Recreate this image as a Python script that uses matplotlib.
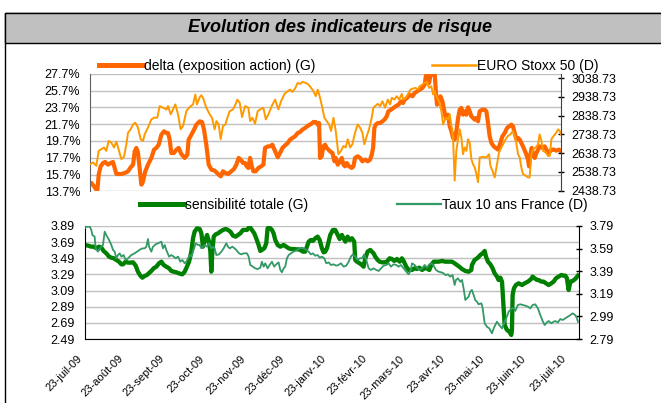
import matplotlib
matplotlib.use('Agg')
import matplotlib.pyplot as plt
import matplotlib.transforms as mtransforms
import numpy as np
import pandas as pd
from matplotlib.patches import Rectangle
from matplotlib.lines import Line2D

plt.rcParams['font.family'] = ['Liberation Sans', 'DejaVu Sans']

# jours depuis le 23/07/2009
debut = pd.Timestamp('2009-07-23')
fin = debut + pd.Timedelta(days=373)

# delta (exposition action), en %
delta_jours = [0, 1.1, 3.2, 5.0, 5.8, 6.9, 8.4, 10.3, 12.1, 14.3, 16.4, 18.2, 19.5, 20.9, 22.7, 24.8, 27.5, 30.1, 32.2, 34.1,
               35.4, 36.7, 38.0, 39.3, 40.7, 42.0, 43.8, 45.9, 48.6, 50.7, 52.5, 54.4, 56.5, 58.6, 60.5, 61.8, 63.1, 64.4, 66.5, 68.4,
               70.2, 72.3, 75.0, 77.1, 78.1, 80.3, 82.4, 84.2, 86.9, 88.7, 90.3, 92.1, 94.0, 96.1, 98.7, 101.4, 103.5, 105.3, 107.2, 109.3,
               111.9, 114.1, 115.9, 117.7, 119.3, 121.2,
               122.8, 124.1, 125.4, 126.8, 128.1, 129.4, 131.2, 133.4, 135.5, 137.3, 138.6, 140.8, 142.6, 144.4, 146.6, 148.7, 150.5, 152.4, 154.5, 156.6,
               158.4, 160.3, 162.4, 164.5, 166.4, 168.2, 170.3, 173.0, 175.1, 176.9, 178.8, 180.4, 181.4, 182.2, 183.5, 184.8, 186.2, 187.5, 188.8, 190.1,
               192.0, 193.6, 194.6, 196.2, 198.0, 199.4, 200.7, 202.0, 203.3, 205.2, 207.3, 208.6, 209.9, 212.0, 213.9, 215.7, 217.8, 220.0, 221.8, 223.1,
               224.2, 225.2, 226.3, 227.9, 229.7, 231.6, 233.2, 235.0, 236.3, 238.4, 240.3, 242.1, 244.2, 246.4,
               247.9, 249.2, 251.1, 253.2, 255.3, 257.1, 259.0, 261.1, 263.2, 265.1, 265.9, 266.9, 268.5, 269.5, 270.6, 271.7, 273.0, 273.8, 274.8, 276.4,
               277.5, 279.1, 280.1, 281.7, 283.5, 284.9, 286.2, 287.5, 288.8, 290.1, 291.5, 292.8, 294.1, 295.4, 296.7, 298.1, 299.4, 300.7, 302.0, 303.3,
               304.7, 306.0, 307.3, 308.6, 310.7, 312.6, 313.9, 315.2, 316.5, 317.9, 319.7, 321.3, 323.1, 324.5, 326.6, 328.4, 330.3, 331.9, 333.7, 335.0,
               336.3, 337.7, 339.0, 340.3, 341.6, 342.9, 345.1, 346.9, 347.7, 348.7, 349.8, 350.9, 352.2, 353.5, 354.8, 356.1, 358.3, 360.1, 361.4, 363.5,
               365.4, 367.2, 369.3, 371.4, 373.0]
delta = [14.69, 14.69, 14.29, 13.90, 13.78, 15.68, 16.67, 17.07, 17.19, 16.87, 17.07, 17.19, 16.48, 15.76, 15.76, 15.76, 15.88, 16.08, 16.55, 16.87,
         18.46, 18.86, 18.26, 16.48, 14.49, 14.89, 16.08, 16.87, 17.67, 18.66, 18.86, 19.25, 20.44, 20.84, 20.64, 20.64, 19.85, 18.26, 18.26, 18.66,
         18.86, 18.14, 17.67, 18.06, 19.85, 20.44, 21.04, 21.63, 22.03, 21.95, 21.04, 19.25, 16.87, 16.28, 16.16, 15.76, 15.48, 16.08, 15.88, 15.76,
         16.08, 16.36, 16.87, 17.67, 17.47, 17.07,
         17.07, 16.67, 16.48, 17.67, 16.67, 16.08, 16.08, 16.48, 16.67, 16.87, 18.86, 19.05, 19.05, 19.25, 18.46, 17.75, 18.26, 18.86, 19.17, 19.45,
         19.85, 20.05, 20.25, 20.64, 20.76, 21.04, 21.24, 21.55, 21.71, 21.95, 21.95, 21.63, 21.83, 17.67, 17.87, 19.05, 19.25, 18.86, 18.66, 18.46,
         18.26, 17.27, 17.67, 16.87, 17.27, 17.67, 16.87, 16.67, 17.07, 16.67, 16.48, 16.67, 17.67, 17.87, 17.67, 17.27, 17.47, 17.27, 17.47, 18.06,
         18.86, 21.24, 21.63, 21.83, 21.83, 22.03, 22.23, 22.63, 23.22, 23.42, 23.62, 23.82, 24.01, 24.41,
         24.21, 24.61, 24.81, 25.21, 25.01, 25.40, 25.60, 25.80, 26.00, 26.40, 27.39, 27.67, 26.59, 27.39, 27.67, 27.67, 27.59, 25.80, 24.01, 24.41,
         25.01, 24.41, 23.62, 22.43, 22.82, 21.44, 20.84, 20.05, 19.85, 20.84, 22.43, 23.42, 23.62, 22.82, 23.22, 22.82, 23.70, 23.22, 22.63, 22.43,
         22.23, 22.43, 22.03, 23.22, 23.42, 23.42, 23.22, 21.83, 20.25, 19.45, 19.05, 18.86, 18.66, 19.25, 20.25, 20.64, 21.24, 21.44, 21.63, 21.44,
         20.64, 19.85, 20.05, 19.85, 19.45, 19.05, 18.26, 17.47, 16.67, 18.06, 18.86, 18.06, 17.67, 18.26, 18.66, 19.05, 18.86, 19.05, 18.66, 18.26,
         18.66, 18.66, 18.54, 18.66, 18.46]

# EURO Stoxx 50
stoxx_jours = [0, 2.4, 5.0, 6.9, 9.0, 11.1, 12.9, 14.8, 16.9, 19.0, 20.9, 22.2, 24.8, 26.9, 28.8, 30.1, 32.2, 34.1, 35.9, 38.0,
               40.1, 42.0, 43.3, 45.9, 48.6, 50.7, 53.3, 55.2, 57.8, 60.5, 61.8, 63.9, 65.7, 67.6, 69.7, 71.8, 73.7, 76.3, 78.9, 81.6,
               83.4, 84.7, 86.9, 88.2, 89.5, 92.1, 94.8, 96.6, 98.7, 100.1, 101.9, 103.5, 105.3, 107.2, 108.8, 110.6, 113.3, 115.4, 116.7, 118.6,
               120.4,
               122.8, 125.4, 126.8, 128.6, 130.7, 132.8, 134.7, 137.3, 139.2, 141.3, 143.9, 146.6, 147.9, 149.2, 151.3, 154.0, 156.6, 158.4, 160.3, 162.4,
               164.5, 166.4, 168.2, 170.8, 173.0, 175.1, 176.9, 178.8, 180.4, 182.2, 184.0, 185.6, 187.5, 189.3, 190.9, 192.8, 194.6, 196.7, 198.8, 200.7,
               202.5, 204.1, 206.0, 207.8, 209.9, 212.0, 213.9, 215.7, 217.3, 219.2, 221.0, 223.1, 224.4, 225.8, 227.9, 229.7, 231.6, 233.7, 235.8, 237.6,
               239.0, 241.1, 242.9, 244.8, 246.9,
               247.9, 250.0, 251.9, 253.7, 255.8, 257.9, 259.8, 261.1, 263.2, 265.1, 266.9, 268.5, 270.3, 271.7, 273.0, 274.3, 276.4, 278.3, 279.6, 281.7,
               283.5, 284.9, 286.2, 287.5, 288.8, 290.1, 291.5, 292.8, 294.1, 295.4, 296.7, 298.1, 299.4, 300.7, 302.0, 303.3, 304.7, 306.0, 307.3, 308.6,
               311.3, 313.9, 316.0, 317.1, 318.7, 320.5, 322.3, 323.9, 325.8, 327.1, 329.2, 331.1, 332.9, 335.0, 337.1, 339.0, 340.3, 341.6, 342.9, 345.1,
               346.9, 348.2, 349.5, 350.9, 353.0, 354.8, 356.1, 357.5, 358.8, 360.9, 362.7, 364.1, 365.4, 367.2, 369.3, 370.7, 372.0, 373.0]
stoxx = [2580, 2589, 2571, 2651, 2660, 2669, 2651, 2704, 2695, 2669, 2700, 2669, 2607, 2619, 2686, 2748, 2766, 2792, 2801, 2775,
         2713, 2704, 2739, 2775, 2819, 2828, 2828, 2890, 2881, 2872, 2890, 2846, 2872, 2899, 2846, 2766, 2784, 2863, 2885, 2899,
         2952, 2899, 2938, 2948, 2934, 2881, 2846, 2828, 2766, 2810, 2792, 2713, 2784, 2792, 2828, 2863, 2872, 2902, 2925, 2907,
         2831,
         2890, 2881, 2810, 2828, 2796, 2863, 2872, 2881, 2819, 2846, 2890, 2925, 2899, 2872, 2916, 2955, 2970, 2978, 2966, 2984,
         3014, 3008, 3019, 3014, 3005, 2987, 2970, 2943, 2978, 2934, 2881, 2828, 2810, 2792, 2757, 2828, 2757, 2633, 2651, 2677,
         2669, 2713, 2669, 2686, 2748, 2792, 2775, 2748, 2686, 2731, 2766, 2828, 2881, 2890, 2902, 2890, 2916, 2881, 2925, 2899,
         2934, 2925, 2943, 2925, 2955,
         2925, 2934, 2955, 2978, 2984, 2987, 2978, 2996, 3005, 3014, 3019, 2987, 2996, 2952, 2970, 2943, 2916, 2863, 2792, 2828,
         2819, 2846, 2784, 2722, 2492, 2651, 2713, 2766, 2722, 2633, 2669, 2651, 2713, 2695, 2607, 2580, 2562, 2527, 2483, 2616,
         2619, 2616, 2633, 2571, 2545, 2509, 2580, 2642, 2669, 2686, 2713, 2731, 2739, 2757, 2713, 2633, 2616, 2562, 2527, 2518,
         2509, 2509, 2633, 2660, 2669, 2686, 2739, 2704, 2651, 2642, 2624, 2624, 2713, 2731, 2748, 2766, 2757, 2739]

# sensibilite totale
sens_jours = [0, 2.5, 5.0, 6.8, 8.8, 10.8, 12.6, 14.3, 16.3, 18.4, 20.1, 21.9, 23.9, 25.9, 27.7, 28.9, 30.9, 32.7, 34.5, 36.5,
              38.5, 40.2, 42.0, 43.5, 45.3, 47.0, 49.1, 50.3, 52.1, 54.1, 56.1, 57.9, 59.6, 61.6, 63.7, 65.4, 67.2, 69.2, 71.7, 73.7,
              75.5, 77.2, 78.8, 80.5, 81.8, 83.0, 84.8, 86.8, 88.1, 89.3, 90.6, 92.4, 93.9, 94.9, 95.6, 96.4, 97.4, 98.9, 100.7, 102.4,
              104.4, 106.4, 108.2, 110.0, 112.0, 114.0, 115.8, 117.5, 119.5,
              122.5, 124.5, 126.3, 128.0, 129.5, 131.3, 132.6, 133.8, 135.6, 137.1, 138.1, 139.6, 141.4, 142.6, 143.9, 145.7, 147.7, 150.2, 152.2, 154.0,
              155.7, 157.7, 159.8, 161.5, 162.8, 164.8, 166.5, 167.8, 169.1, 170.8, 172.3, 174.1, 175.9, 177.4, 179.1, 180.4, 181.6, 182.9, 184.2, 185.4,
              187.4, 189.2, 191.0, 192.5, 194.2, 195.5, 196.8, 198.5, 200.0, 201.8, 203.5, 204.3, 205.6, 207.6, 209.3, 210.6, 211.9, 213.6, 215.6, 216.9,
              218.1, 219.4, 221.2, 222.7, 224.4, 226.2, 228.2, 230.2, 232.0, 233.8, 235.8, 237.8, 239.5, 240.8, 242.8, 244.6,
              247.1, 249.1, 250.9, 252.6, 254.7, 256.7, 258.4, 260.2, 261.7, 263.5, 265.2, 267.2, 269.8, 272.3, 274.8, 277.3, 279.3, 281.1, 282.8, 284.9,
              287.4, 289.9, 291.9, 292.4, 294.4, 296.9, 298.7, 300.5, 302.0, 303.0, 304.5, 306.3, 308.0, 309.5, 311.3, 312.5, 313.8, 315.1, 316.3, 317.1,
              318.8, 320.6, 322.1, 322.6, 323.1, 324.1, 325.6, 327.6, 330.2, 332.2, 334.7, 337.2, 338.2, 339.7, 341.5, 342.7, 344.8, 346.5, 348.3, 350.3,
              352.3, 354.1, 355.8, 357.8, 359.9, 361.6, 362.9, 364.1, 365.4, 366.7, 368.4, 370.4, 372.4]
sens = [3.655, 3.647, 3.634, 3.634, 3.614, 3.634, 3.622, 3.580, 3.552, 3.510, 3.498, 3.490, 3.469, 3.448, 3.415, 3.415, 3.448, 3.436, 3.436, 3.440,
        3.399, 3.324, 3.275, 3.250, 3.271, 3.283, 3.316, 3.333, 3.366, 3.386, 3.428, 3.448, 3.407, 3.386, 3.366, 3.333, 3.324, 3.316, 3.300, 3.291,
        3.324, 3.386, 3.448, 3.572, 3.738, 3.820, 3.861, 3.853, 3.799, 3.634, 3.696, 3.779, 3.696, 3.572, 3.324, 3.572, 3.758, 3.787, 3.799, 3.820,
        3.841, 3.853, 3.841, 3.820, 3.770, 3.758, 3.779, 3.799, 3.841,
        3.841, 3.882, 3.841, 3.800, 3.738, 3.655, 3.581, 3.593, 3.614, 3.676, 3.861, 3.870, 3.841, 3.800, 3.717, 3.655, 3.634, 3.655, 3.634, 3.614,
        3.605, 3.605, 3.601, 3.601, 3.593, 3.572, 3.572, 3.634, 3.696, 3.717, 3.705, 3.738, 3.758, 3.717, 3.614, 3.564, 3.572, 3.614, 3.696, 3.779,
        3.841, 3.841, 3.779, 3.729, 3.779, 3.738, 3.696, 3.758, 3.717, 3.738, 3.696, 3.469, 3.448, 3.428, 3.407, 3.386, 3.490, 3.572, 3.593, 3.572,
        3.552, 3.510, 3.469, 3.448, 3.440, 3.440, 3.448, 3.490, 3.481, 3.457, 3.481, 3.448, 3.490, 3.457, 3.386, 3.345,
        3.345, 3.366, 3.357, 3.374, 3.345, 3.366, 3.366, 3.345, 3.407, 3.448, 3.448, 3.448, 3.457, 3.448, 3.448, 3.448, 3.428, 3.407, 3.386, 3.357,
        3.333, 3.324, 3.345, 3.407, 3.469, 3.498, 3.531, 3.552, 3.581, 3.510, 3.448, 3.415, 3.366, 3.304, 3.263, 3.221, 3.250, 3.200, 2.891, 2.664,
        2.602, 2.581, 2.540, 2.602, 3.035, 3.118, 3.159, 3.180, 3.159, 3.180, 3.201, 3.234, 3.263, 3.242, 3.221, 3.221, 3.201, 3.201, 3.180, 3.159,
        3.180, 3.201, 3.242, 3.263, 3.283, 3.275, 3.275, 3.242, 3.097, 3.201, 3.209, 3.234, 3.275]

# Taux 10 ans France
taux_jours = [0, 1.2, 3.8, 5.0, 5.8, 7.5, 8.3, 10.0, 12.6, 13.8, 15.1, 16.3, 18.4, 20.1, 21.4, 22.6, 23.9, 25.1, 26.4, 27.7,
              29.4, 30.9, 32.7, 35.2, 37.7, 40.2, 42.0, 43.5, 45.3, 46.5, 47.8, 48.6, 50.3, 51.6, 53.6, 55.4, 57.9, 59.1, 60.4, 61.6,
              63.7, 65.4, 67.2, 68.7, 70.5, 72.2, 73.7, 75.5, 76.7, 78.0, 79.3, 80.5, 81.8, 83.8, 85.6, 86.8, 88.1, 89.3, 90.6, 92.4,
              93.9, 95.6, 96.9, 98.1, 99.4, 101.4, 103.2, 104.9, 106.9, 108.2, 109.5, 111.5, 113.2, 114.5, 116.5, 118.3, 120.0,
              122.5, 123.8, 125.0, 127.0, 128.8, 130.6, 132.6, 133.8, 135.1, 136.3, 138.1, 139.6, 141.4, 143.1, 144.6, 146.4, 147.7, 148.9, 150.2, 151.4,
              152.7, 154.0, 155.7, 157.7, 160.3, 162.3, 164.0, 165.8, 167.3, 169.1, 170.8, 172.3, 174.1, 175.9, 177.4, 179.1, 180.9, 182.4, 184.2, 185.9,
              187.9, 189.9, 191.7, 193.5, 195.5, 197.5, 199.3, 201.0, 202.5, 204.3, 206.1, 207.6, 209.3, 211.1, 212.6, 214.4, 216.1, 218.1, 220.2, 221.9,
              223.7, 225.7, 227.7, 229.5, 231.2, 233.2, 235.3, 237.0, 238.8, 240.8, 242.8, 244.6, 246.3,
              247.1, 249.1, 250.9, 252.6, 254.7, 256.7, 258.4, 260.2, 261.7, 263.5, 265.2, 267.2, 269.2, 271.0, 272.3, 274.3, 276.0, 277.8, 279.3, 280.3,
              281.8, 283.6, 284.9, 286.1, 287.4, 288.6, 289.9, 291.1, 292.4, 293.7, 294.9, 296.2, 297.4, 299.5, 300.5, 302.0, 303.7, 305.5, 307.5, 308.8,
              310.0, 311.3, 313.0, 315.1, 317.1, 318.8, 320.1, 321.4, 322.6, 323.9, 325.1, 327.1, 328.9, 330.7, 332.7, 334.7, 336.5, 338.2, 340.2, 342.2,
              344.0, 345.8, 347.3, 349.0, 350.3, 352.3, 354.1, 355.3, 357.3, 359.1, 360.9, 362.9, 364.9, 366.7, 368.4, 370.4, 371.7, 372.4]
taux = [3.769, 3.784, 3.784, 3.755, 3.710, 3.696, 3.592, 3.563, 3.607, 3.622, 3.740, 3.710, 3.666, 3.622, 3.578, 3.563, 3.504, 3.533, 3.548, 3.519,
        3.533, 3.489, 3.504, 3.533, 3.548, 3.569, 3.583, 3.592, 3.592, 3.607, 3.675, 3.607, 3.563, 3.607, 3.628, 3.637, 3.651, 3.592, 3.622, 3.578,
        3.519, 3.533, 3.519, 3.504, 3.519, 3.474, 3.489, 3.460, 3.474, 3.504, 3.533, 3.519, 3.563, 3.637, 3.622, 3.622, 3.592, 3.607, 3.622, 3.607,
        3.637, 3.592, 3.607, 3.592, 3.533, 3.539, 3.563, 3.592, 3.637, 3.607, 3.592, 3.607, 3.592, 3.578, 3.548, 3.539, 3.548,
        3.548, 3.519, 3.445, 3.430, 3.415, 3.409, 3.421, 3.474, 3.430, 3.460, 3.415, 3.445, 3.474, 3.430, 3.451, 3.468, 3.401, 3.380, 3.415, 3.430,
        3.504, 3.533, 3.548, 3.563, 3.578, 3.592, 3.598, 3.592, 3.578, 3.563, 3.539, 3.548, 3.527, 3.533, 3.510, 3.519, 3.504, 3.460, 3.468, 3.445,
        3.451, 3.439, 3.445, 3.460, 3.430, 3.439, 3.474, 3.519, 3.539, 3.519, 3.489, 3.504, 3.504, 3.539, 3.489, 3.415, 3.401, 3.415, 3.401, 3.392,
        3.415, 3.439, 3.445, 3.460, 3.430, 3.451, 3.445, 3.430, 3.445, 3.415, 3.386, 3.362, 3.401,
        3.460, 3.445, 3.421, 3.401, 3.415, 3.445, 3.421, 3.451, 3.460, 3.439, 3.401, 3.386, 3.380, 3.371, 3.356, 3.362, 3.342, 3.356, 3.268, 3.312,
        3.327, 3.297, 3.312, 3.238, 3.135, 3.150, 3.165, 3.209, 3.224, 3.179, 3.135, 3.120, 3.097, 3.106, 3.061, 2.929, 2.899, 2.884, 2.840, 2.884,
        2.914, 2.943, 2.914, 2.884, 2.943, 2.988, 3.032, 3.047, 3.061, 3.061, 3.038, 3.091, 3.097, 3.091, 3.085, 3.076, 3.061, 3.091, 3.097, 3.061,
        3.002, 2.949, 2.914, 2.937, 2.949, 2.929, 2.943, 2.949, 2.937, 2.967, 2.958, 2.973, 2.988, 3.002, 3.017, 3.002, 2.973, 2.943]

mois_labels = ['23-juil-09', '23-août-09', '23-sept-09', '23-oct-09', '23-nov-09', '23-déc-09', '23-janv-10',
               '23-févr-10', '23-mars-10', '23-avr-10', '23-mai-10', '23-juin-10', '23-juil-10']
delta_ticks = [13.7, 15.7, 17.7, 19.7, 21.7, 23.7, 25.7, 27.7]
stoxx_ticks = [2438.73, 2538.73, 2638.73, 2738.73, 2838.73, 2938.73, 3038.73]
sens_ticks = [2.49, 2.69, 2.89, 3.09, 3.29, 3.49, 3.69, 3.89]
taux_ticks = [2.79, 2.99, 3.19, 3.39, 3.59, 3.79]


def en_dates(jours):
    return debut + pd.to_timedelta(np.array(jours), unit='D')


W, H = 661, 403
fig = plt.figure(figsize=(W / 100, H / 100), dpi=100)

# cadre + bandeau titre
fig.add_artist(Rectangle((5 / W, -0.1), 1.2, (H - 12.6) / H + 0.1, transform=fig.transFigure,
                         fill=False, edgecolor='black', lw=1))
fig.add_artist(Rectangle((5 / W, (H - 43.4) / H), 1.2, 30.8 / H, transform=fig.transFigure,
                         facecolor='#C0C0C0', edgecolor='black', lw=1))
fig.text(340 / W, 1 - 28 / H, 'Evolution des indicateurs de risque', ha='center', va='center',
         fontsize=13, fontweight='bold', fontstyle='italic')

grid_col = '#C0C0C0'

# --- graphique du haut ---
ax1 = fig.add_axes([90 / W, 211.7 / H, 471 / W, 117.6 / H])
ax1b = ax1.twinx()
ax1.plot(en_dates(delta_jours), delta, color='#FF6600', lw=3, solid_joinstyle='round')
ax1b.plot(en_dates(stoxx_jours), stoxx, color='#FF9900', lw=1.4, solid_joinstyle='round')
ax1.set_ylim(13.7, 27.7)
ax1.set_yticks(delta_ticks)
ax1.set_yticklabels([f'{v:.1f}%' for v in delta_ticks])
ax1b.set_ylim(2435, 3063)
ax1b.set_yticks(stoxx_ticks)
ax1b.set_yticklabels([f'{v:.2f}' for v in stoxx_ticks])
ax1.set_xlim(debut, fin)
ax1.set_xticks([])
ax1.grid(axis='y', color=grid_col, lw=1)
ax1.set_axisbelow(True)
for s in ['top', 'bottom', 'right']:
    ax1.spines[s].set_visible(False)
ax1.spines['left'].set_color('#606060')
for s in ['top', 'bottom', 'left']:
    ax1b.spines[s].set_visible(False)
ax1b.spines['right'].set_color('#404040')
ax1.tick_params(axis='y', length=0, pad=7, labelsize=9)
ax1b.tick_params(axis='y', direction='inout', length=5, width=1, pad=5, labelsize=9)

# --- graphique du bas ---
ax2 = fig.add_axes([84.7 / W, 64 / H, 494 / W, 113 / H])
ax2b = ax2.twinx()
ax2.plot(en_dates(sens_jours), sens, color='#008000', lw=3.1, solid_joinstyle='round')
ax2b.plot(en_dates(taux_jours), taux, color='#339966', lw=1.3, solid_joinstyle='round')
ax2.set_ylim(2.49, 3.89)
ax2.set_yticks(sens_ticks)
ax2.set_yticklabels([f'{v:.2f}' for v in sens_ticks])
ax2b.set_ylim(2.79, 3.79)
ax2b.set_yticks(taux_ticks)
ax2b.set_yticklabels([f'{v:.2f}' for v in taux_ticks])
ax2.set_xlim(debut, fin)
mois = pd.date_range('2009-07-01', periods=13, freq='MS') + pd.Timedelta(days=22)
ax2.set_xticks(mois)
ax2.set_xticklabels(mois_labels, rotation=45, ha='right', va='center', rotation_mode='anchor')
ax2.grid(axis='y', color=grid_col, lw=1)
ax2.set_axisbelow(True)
for s in ['top', 'right']:
    ax2.spines[s].set_visible(False)
for s in ['top', 'bottom', 'left']:
    ax2b.spines[s].set_visible(False)
ax2.tick_params(axis='y', length=0, pad=7, labelsize=9)
ax2.tick_params(axis='x', length=0, pad=13, labelsize=8)
ax2b.tick_params(axis='y', direction='inout', length=5, width=1, pad=5, labelsize=9)
decal = mtransforms.ScaledTranslation(-0.04, 0, fig.dpi_scale_trans)
for lbl in ax2.get_xticklabels():
    lbl.set_transform(lbl.get_transform() + decal)

# --- legendes ---
def legende(col, lw, texte, x, y):
    fig.legend(handles=[Line2D([], [], color=col, lw=lw)], labels=[texte], loc='center left',
               bbox_to_anchor=(x / W, 1 - y / H), frameon=False, fontsize=10,
               handlelength=3.15, handletextpad=0.1, borderpad=0, borderaxespad=0)

legende('#FF6600', 3.6, 'delta (exposition action) (G)', 99, 66)
legende('#FF9900', 1.8, 'EURO Stoxx 50 (D)', 432, 66)
legende('#008000', 3.6, 'sensibilité totale (G)', 140, 205)
legende('#339966', 1.6, 'Taux 10 ans France (D)', 397, 205)

fig.savefig('out.png', dpi=100)
